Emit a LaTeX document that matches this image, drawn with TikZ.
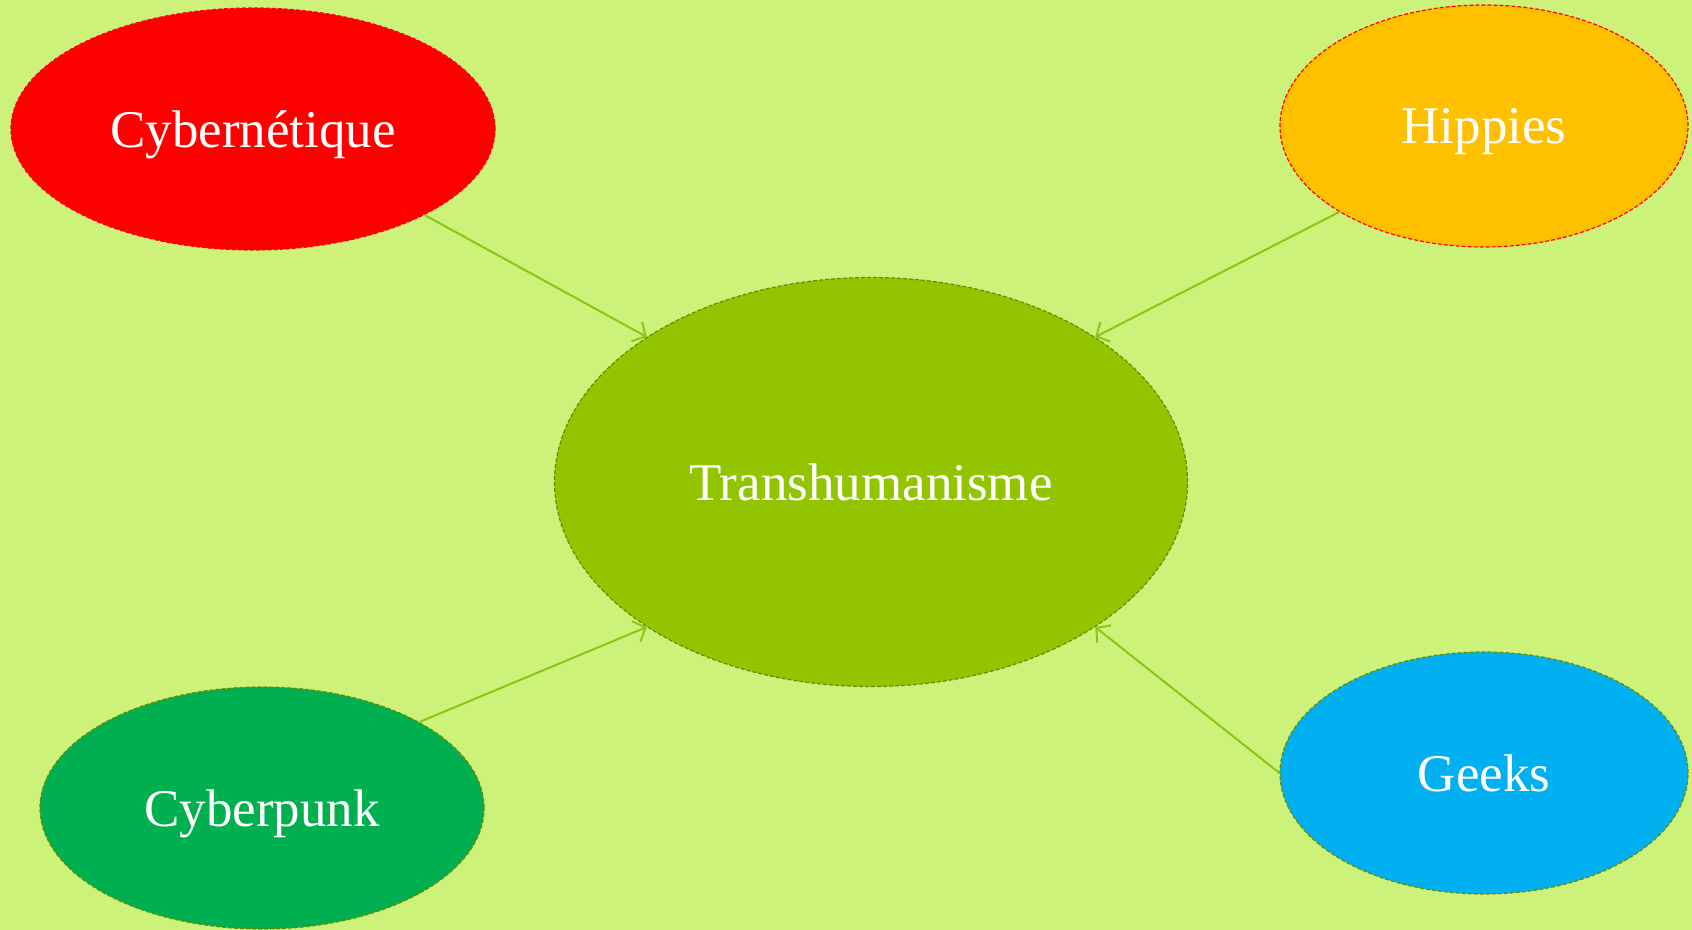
\documentclass[tikz,border=0pt]{standalone}
\usepackage{fontspec}
\setmainfont{Liberation Serif}
\usetikzlibrary{arrows.meta,shapes.geometric}
\definecolor{bgcol}{RGB}{204,242,122}
\definecolor{transcol}{RGB}{146,196,0}
\definecolor{linkcol}{RGB}{143,195,20}
\definecolor{rimcol}{RGB}{100,140,0}
\definecolor{orangecol}{RGB}{255,192,0}
\definecolor{greencol}{RGB}{0,176,80}
\definecolor{bluecol}{RGB}{0,176,240}

\tikzset{
  bubble/.style={ellipse, inner sep=0pt, text=white, text depth=0pt, dashed,
    dash pattern=on 2pt off 1pt, line width=0.6pt, draw=rimcol,
    font=\fontsize{26.5}{30}\selectfont},
  link/.style={-{Straight Barb[length=5pt,width=11pt]}, linkcol, line width=1pt}
}

\begin{document}
\begin{tikzpicture}[x=0.5pt,y=-0.5pt]
% Background
\fill[bgcol] (0,0) rectangle (1692,930);
\useasboundingbox (0,0) rectangle (1692,930);

% Centre
\node[bubble, fill=transcol, minimum width=316.5pt, minimum height=204.5pt] (trans) at (871,482) {Transhumanisme};

% Sources
\node[bubble, fill=red, draw=red, minimum width=242pt, minimum height=121pt] (cyber) at (253,129) {Cybernétique};
\node[bubble, fill=orangecol, draw=red, minimum width=204pt, minimum height=121pt] (hippies) at (1484,126) {Hippies};
\node[bubble, fill=greencol, minimum width=222pt, minimum height=121pt] (punk) at (262,808) {Cyberpunk};
\node[bubble, fill=bluecol, minimum width=204pt, minimum height=121pt] (geeks) at (1484,773) {Geeks};

% Links
\draw[link] (cyber.south east) -- (trans.north west);
\draw[link] (hippies.south west) -- (trans.north east);
\draw[link] (punk.north east) -- (trans.south west);
\draw[link] (geeks.west) -- (trans.south east);
\end{tikzpicture}
\end{document}
